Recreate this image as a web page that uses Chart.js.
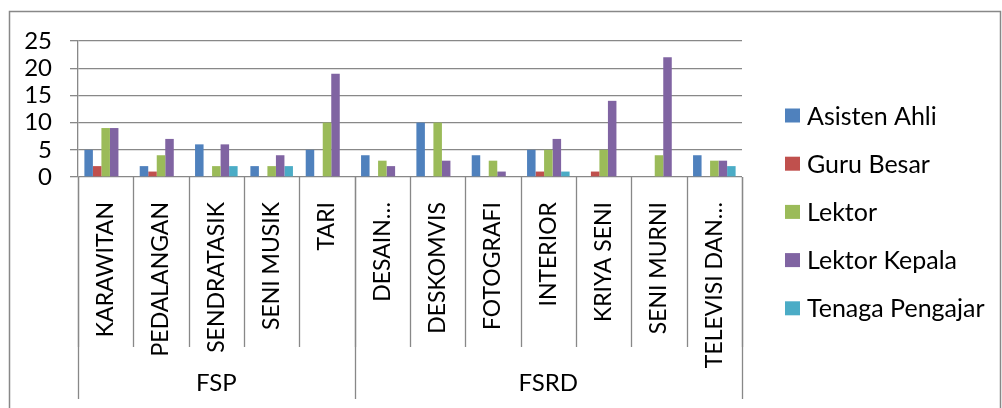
<!DOCTYPE html>
<html>
<head>
<meta charset="utf-8">
<script src="https://cdn.jsdelivr.net/npm/chart.js@4.4.1/dist/chart.umd.min.js"></script>
<style>
  html, body { margin: 0; padding: 0; background: #ffffff; }
  #wrap { width: 1002px; height: 408px; position: relative; }
</style>
</head>
<body>
<div id="wrap"><canvas id="c" width="1002" height="408"></canvas></div>
<script>
// Study programmes, grouped by faculty
const programs = ['KARAWITAN', 'PEDALANGAN', 'SENDRATASIK', 'SENI MUSIK', 'TARI',
  'DESAIN…', 'DESKOMVIS', 'FOTOGRAFI', 'INTERIOR', 'KRIYA SENI', 'SENI MURNI', 'TELEVISI DAN…'];
const faculties = ['FSP', 'FSRD'];
const facultySizes = [5, 7];

// Staff counts per academic rank
const asistenAhli    = [5, 2, 6, 2, 5, 4, 10, 4, 5, 0, 0, 4];
const guruBesar      = [2, 1, 0, 0, 0, 0, 0, 0, 1, 1, 0, 0];
const lektor         = [9, 4, 2, 2, 10, 3, 10, 3, 5, 5, 4, 3];
const lektorKepala   = [9, 7, 6, 4, 19, 2, 3, 1, 7, 14, 22, 3];
const tenagaPengajar = [0, 0, 2, 2, 0, 0, 0, 0, 1, 0, 0, 2];

const seriesNames = ['Asisten Ahli', 'Guru Besar', 'Lektor', 'Lektor Kepala', 'Tenaga Pengajar'];
const seriesData = [asistenAhli, guruBesar, lektor, lektorKepala, tenagaPengajar];
const seriesColors = ['#4F81BD', '#C0504D', '#9BBB59', '#8064A2', '#4BACC6'];

const yMin = 0, yMax = 25, yStep = 5;

const FONT = 'Lato, "Open Sans", sans-serif';
const LINE = '#888888';

// Frame, category dividers, faculty row and legend
const decorations = {
  id: 'decorations',
  beforeDraw(chart) {
    const ctx = chart.ctx;
    ctx.save();
    ctx.strokeStyle = LINE;
    ctx.lineWidth = 1.5;
    ctx.strokeRect(9.5, 11.5, 991, 500);
    ctx.restore();
  },
  afterDraw(chart) {
    const ctx = chart.ctx;
    const x = chart.scales.x;
    const area = chart.chartArea;
    const half = (x.getPixelForValue(1) - x.getPixelForValue(0)) / 2;
    const bottom = area.bottom;
    const catRowEnd = 347;
    const groupRowEnd = 399;

    ctx.save();
    ctx.strokeStyle = LINE;
    ctx.lineWidth = 1.3;

    // dividers between programmes
    for (let i = 0; i <= programs.length; i++) {
      const px = Math.round(x.getPixelForValue(i) - half) + 0.5;
      ctx.beginPath();
      ctx.moveTo(px, bottom);
      ctx.lineTo(px, catRowEnd);
      ctx.stroke();
    }

    // faculty boundaries and labels
    let start = 0;
    ctx.fillStyle = '#000';
    ctx.font = '24px ' + FONT;
    ctx.textAlign = 'center';
    ctx.textBaseline = 'middle';
    const edges = [0];
    facultySizes.forEach(n => { start += n; edges.push(start); });
    edges.forEach(e => {
      const px = Math.round(x.getPixelForValue(e) - half) + 0.5;
      ctx.beginPath();
      ctx.moveTo(px, bottom);
      ctx.lineTo(px, groupRowEnd);
      ctx.stroke();
    });
    faculties.forEach((f, i) => {
      const a = x.getPixelForValue(edges[i]) - half;
      const b = x.getPixelForValue(edges[i + 1]) - half;
      ctx.fillText(f, (a + b) / 2, 383);
    });

    // legend
    ctx.font = '25px ' + FONT;
    ctx.textAlign = 'left';
    chart.data.datasets.forEach((ds, i) => {
      const cy = 115.5 + i * 48.2;
      ctx.fillStyle = ds.backgroundColor;
      ctx.fillRect(785, cy - 7, 15, 14);
      ctx.fillStyle = '#000';
      ctx.fillText(ds.label, 807, cy + 1);
    });
    ctx.restore();
  }
};

new Chart(document.getElementById('c'), {
  type: 'bar',
  data: {
    labels: programs,
    datasets: seriesNames.map((name, i) => ({
      label: name,
      data: seriesData[i],
      backgroundColor: seriesColors[i],
      borderWidth: 0,
      barPercentage: 1.0,
      categoryPercentage: 5 / 6.5
    }))
  },
  options: {
    responsive: false,
    animation: false,
    layout: { padding: { top: 41, right: 260, left: 0, bottom: 0 } },
    plugins: {
      legend: { display: false },
      tooltip: { enabled: false }
    },
    scales: {
      x: {
        grid: { display: false },
        border: { display: false },
        ticks: {
          autoSkip: false,
          maxRotation: 90,
          minRotation: 90,
          padding: 17,
          color: '#000',
          font: { family: FONT, size: 23 }
        },
        afterFit(scale) { scale.height = 231; }
      },
      y: {
        min: yMin,
        max: yMax,
        ticks: {
          stepSize: yStep,
          autoSkip: false,
          padding: 18,
          color: '#000',
          font: { family: FONT, size: 24 }
        },
        grid: { color: LINE, lineWidth: 1.3, tickLength: 8 },
        border: { display: true, color: LINE, width: 1.3 },
        afterFit(scale) { scale.width = 78; }
      }
    }
  },
  plugins: [decorations]
});
</script>
</body>
</html>
